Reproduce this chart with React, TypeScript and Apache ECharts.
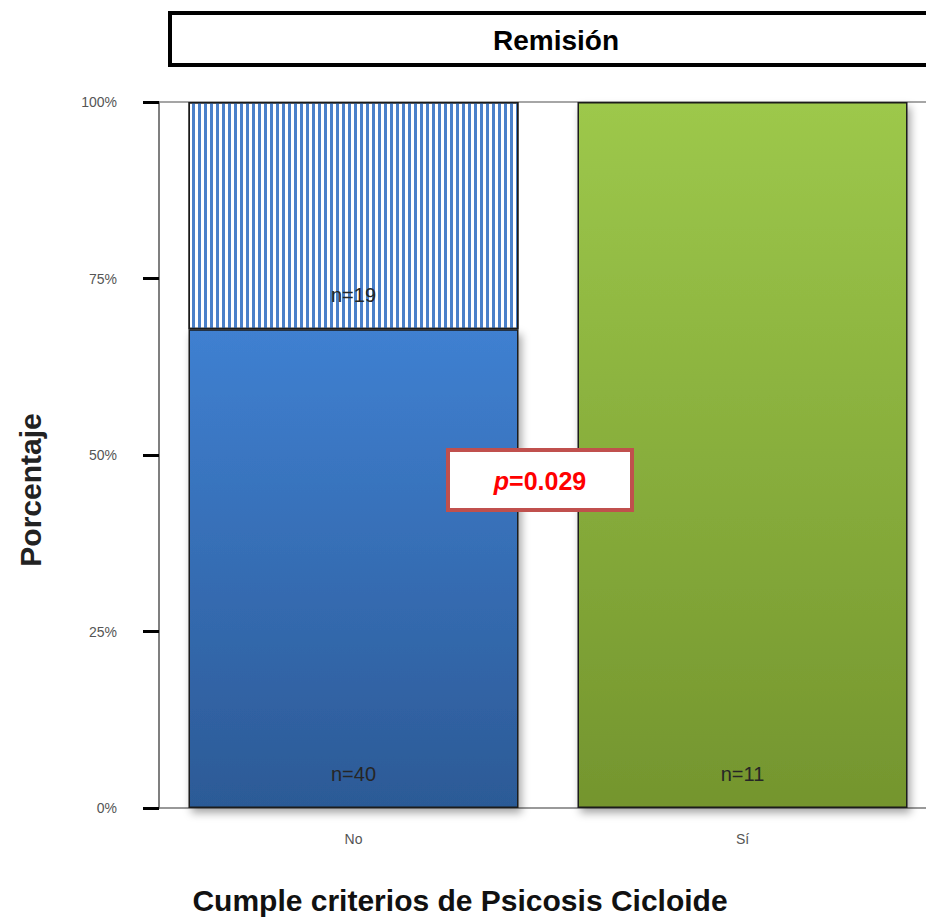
import React, { useEffect, useRef } from 'react';
import * as echarts from 'echarts';

const categories = ['No', 'Sí'];
const countsBase = [40, 11];
const countsTop = [19, 0];
const yTicks = [0, 25, 50, 75, 100];
const titleText = 'Remisión';
const xTitle = 'Cumple criterios de Psicosis Cicloide';
const yTitle = 'Porcentaje';
const pValue = '0.029';

const FONT = "'Liberation Sans', Arial, Helvetica, sans-serif";

export default function App() {
  const ref = useRef<HTMLDivElement>(null);
  useEffect(() => {
    if (!ref.current) return;
    const chart = echarts.init(ref.current, undefined, { renderer: 'svg' });
    const totals = countsBase.map((c, i) => c + countsTop[i]);
    const baseGrad = [
      new echarts.graphic.LinearGradient(0, 0, 0, 1, [
        { offset: 0, color: '#3f80d1' },
        { offset: 1, color: '#2c5a96' },
      ]),
      new echarts.graphic.LinearGradient(0, 0, 0, 1, [
        { offset: 0, color: '#9dc84b' },
        { offset: 1, color: '#74952e' },
      ]),
    ];
    const nLabel = (counts: number[]) => ({
      show: true,
      position: 'insideBottom',
      distance: 24,
      fontFamily: FONT,
      fontSize: 20,
      color: '#262626',
      formatter: (p: any) => (counts[p.dataIndex] ? 'n=' + counts[p.dataIndex] : ''),
    });
    const option: any = {
      animation: false,
      backgroundColor: '#ffffff',
      grid: { left: 159, top: 102, width: 778, height: 706, containLabel: false },
      xAxis: [
        {
          type: 'category',
          data: categories,
          position: 'bottom',
          axisLine: { lineStyle: { color: '#777', width: 1.5 } },
          axisTick: { alignWithLabel: true, length: 12, lineStyle: { color: '#000', width: 3 } },
          axisLabel: { margin: 24, fontSize: 14, color: '#555', fontFamily: FONT },
        },
        {
          type: 'category',
          data: categories,
          position: 'top',
          axisLine: { lineStyle: { color: '#888', width: 1.5 } },
          axisTick: { show: false },
          axisLabel: { show: false },
        },
      ],
      yAxis: {
        type: 'value',
        min: yTicks[0],
        max: yTicks[yTicks.length - 1],
        interval: 25,
        axisLine: { show: true, lineStyle: { color: '#555', width: 1.5 } },
        axisTick: { show: true, length: 16, lineStyle: { color: '#000', width: 3 } },
        splitLine: { show: false },
        axisLabel: {
          formatter: '{value}%',
          margin: 42,
          fontSize: 14,
          color: '#555',
          fontFamily: FONT,
          padding: [10, 0, 0, 0],
        },
      },
      series: [
        {
          type: 'bar',
          stack: 's',
          barWidth: 330,
          z: 2,
          data: countsBase.map((c, i) => ({
            value: (c / totals[i]) * 100,
            itemStyle: { color: baseGrad[i] },
          })),
          itemStyle: {
            borderColor: '#1a1a1a',
            borderWidth: 1.5,
            shadowBlur: 8,
            shadowColor: 'rgba(0,0,0,0.35)',
            shadowOffsetX: 3,
            shadowOffsetY: 5,
          },
          label: nLabel(countsBase),
        },
        {
          type: 'bar',
          stack: 's',
          barWidth: 330,
          z: 3,
          data: countsTop.map((c, i) => (c ? (c / totals[i]) * 100 : null)),
          itemStyle: {
            color: '#ffffff',
            borderColor: '#1a1a1a',
            borderWidth: 1.5,
            decal: {
              symbol: 'rect',
              symbolSize: 1,
              dashArrayX: [3, 3],
              dashArrayY: [6, 0],
              color: '#4a80c9',
              rotation: 0,
            },
          },
          label: nLabel(countsTop),
        },
      ],
      graphic: [
        {
          type: 'rect',
          z: 100,
          shape: { x: 170, y: 13, width: 800, height: 52 },
          style: { fill: '#fff', stroke: '#000', lineWidth: 4 },
        },
        {
          type: 'text',
          z: 101,
          x: 556,
          y: 40,
          style: {
            text: titleText,
            fontFamily: FONT,
            fontWeight: 'bold',
            fontSize: 28,
            fill: '#000',
            textAlign: 'center',
            textVerticalAlign: 'middle',
          },
        },
        {
          type: 'rect',
          z: 100,
          shape: { x: 448, y: 450, width: 184, height: 60 },
          style: { fill: '#fff', stroke: '#c0504d', lineWidth: 4 },
        },
        {
          type: 'text',
          z: 101,
          x: 540,
          y: 481,
          style: {
            text: '{i|p}{n|=' + pValue + '}',
            textAlign: 'center',
            textVerticalAlign: 'middle',
            rich: {
              i: { fontFamily: FONT, fontWeight: 'bold', fontStyle: 'italic', fontSize: 25, fill: '#ff0000', color: '#ff0000' },
              n: { fontFamily: FONT, fontWeight: 'bold', fontSize: 25, fill: '#ff0000', color: '#ff0000' },
            },
          },
        },
        {
          type: 'text',
          z: 101,
          x: 30,
          y: 490,
          rotation: Math.PI / 2,
          style: {
            text: yTitle,
            fontFamily: FONT,
            fontWeight: 'bold',
            fontSize: 30,
            fill: '#222',
            textAlign: 'center',
            textVerticalAlign: 'middle',
          },
        },
        {
          type: 'text',
          z: 101,
          x: 460,
          y: 900,
          style: {
            text: xTitle,
            fontFamily: FONT,
            fontWeight: 'bold',
            fontSize: 30,
            fill: '#111',
            textAlign: 'center',
            textVerticalAlign: 'middle',
          },
        },
      ],
    };
    chart.setOption(option);
    return () => chart.dispose();
  }, []);
  return (
    <div style={{ width: 926, height: 918, overflow: 'hidden', position: 'absolute', left: 0, top: 0 }}>
      <div ref={ref} style={{ width: 944, height: 918 }} />
    </div>
  );
}
